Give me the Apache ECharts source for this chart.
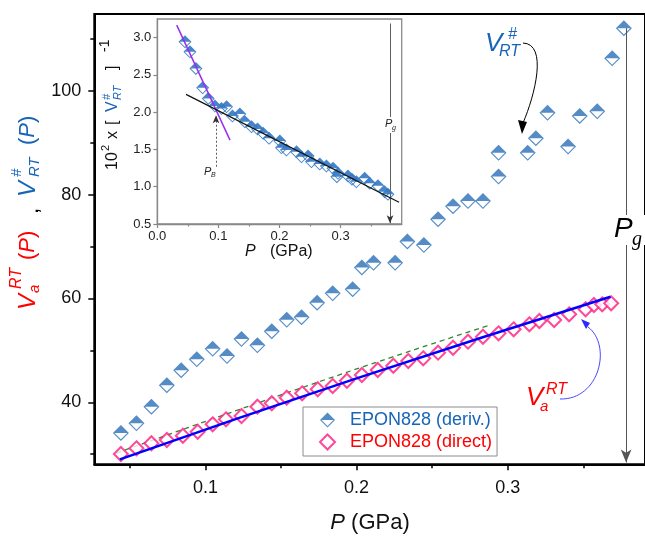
<!DOCTYPE html>
<html><head><meta charset="utf-8">
<script src="https://cdn.jsdelivr.net/npm/echarts@6/dist/echarts.min.js"></script>
<style>html,body{margin:0;padding:0;background:#fff}#c{width:645px;height:536px}</style>
</head><body><div id="c"></div>
<script>
// ---------------- data ----------------
const derivP = [0.0441,0.0544,0.0643,0.0745,0.0840,0.0943,0.1048,0.1143,0.1239,0.1344,0.1439,0.1538,0.1636,0.1739,0.1842,0.1974,0.2035,0.2112,0.2255,0.2336,0.2445,0.2539,0.2638,0.2737,0.2836,0.2939,0.2939,0.3132,0.3186,0.3263,0.3399,0.3476,0.3592,0.3691,0.3768];
const derivV = [34.1,35.95,39.15,43.3,46.2,48.3,50.3,48.9,52.2,51.0,53.7,55.9,56.4,59.2,61.0,61.8,66.0,66.9,66.9,71.0,70.3,75.3,77.8,78.8,78.8,83.5,88.1,88.1,90.9,95.8,89.3,95.2,96.1,106.3,112.1];
const directP = [0.0441,0.0544,0.0643,0.0745,0.0851,0.0949,0.1048,0.1136,0.1239,0.1344,0.1439,0.1538,0.1640,0.1743,0.1842,0.1936,0.2035,0.2140,0.2243,0.2342,0.2441,0.2539,0.2638,0.2737,0.2836,0.2939,0.3039,0.3143,0.3209,0.3307,0.3406,0.3515,0.3570,0.3625,0.3684];
const directV = [30.03,31.13,32.10,32.73,33.56,34.33,35.76,36.72,37.36,39.15,39.81,40.89,41.73,42.51,43.14,44.16,45.26,46.23,47.05,47.96,48.48,49.56,50.52,51.68,52.64,53.30,54.07,55.03,55.67,55.86,56.96,57.93,58.75,58.89,59.08];
const fitP = [0.0434,0.2,0.368];
const fitV = [29.0,44.6,60.35];
const dashP = [0.0412,0.1816,0.2884];
const dashV = [30.2,44.6,54.9];
const pgMainP = [0.3783,0.3783];
const pgMainV = [112.1,28.4];

const insetP = [0.0453,0.0534,0.0632,0.0742,0.0834,0.0943,0.1050,0.1134,0.1230,0.1351,0.1433,0.1542,0.1640,0.1732,0.1830,0.2005,0.2032,0.2114,0.2278,0.2360,0.2468,0.2523,0.2659,0.2768,0.2876,0.2939,0.2958,0.3121,0.3186,0.3258,0.3394,0.3475,0.3611,0.3720,0.3775];
const insetV = [2.944,2.81,2.587,2.327,2.185,2.082,2.05,2.072,1.948,1.974,1.871,1.804,1.773,1.716,1.649,1.613,1.523,1.492,1.469,1.402,1.411,1.335,1.304,1.277,1.247,1.135,1.18,1.143,1.10,1.067,1.113,1.046,1.014,0.933,0.898];
const purpleP = [0.0318,0.119];
const purpleV = [3.168,1.626];
const blackP = [0.047,0.3956];
const blackV = [2.239,0.791];
const pgInsetP = [0.3809,0.3809];
const pgInsetV = [3.19,0.51];
const pbInsetP = [0.0961,0.0961];
const pbInsetV = [1.268,1.96];

const mainXTicks = [0.1,0.2,0.3];
const mainXMinor = [0.05,0.15,0.25,0.35];
const mainYTicks = [40,60,80,100];
const mainYMinor = [30,50,70,90,110];
const insetXTicks = [0,0.1,0.2,0.3];
const insetXMinor = [0.05,0.15,0.25,0.35];
const insetYTicks = [0.5,1.0,1.5,2.0,2.5,3.0];

// ---------------- helpers ----------------
const FF = "'Liberation Sans', Arial, sans-serif";
const HALF = 'path://M0,-10L10,0L0,10L-10,0ZM0,-8L-8,0L0,8L8,0ZM0,-10L10,0L-10,0Z';
const pairs = (xs, ys) => xs.map((x, i) => [x, ys[i]]);
const MX0 = 0.02651, MX1 = 0.39079, MY0 = 28.05, MY1 = 114.84;

function majorAxis(grid, pos, min, max, ticks, o) {
  return {
    type: 'value', gridIndex: grid, position: pos, min: min, max: max,
    axisLine: {show: true, onZero: false, lineStyle: {color: o.lc, width: o.lw}},
    axisTick: {show: true, length: o.tl, customValues: ticks, lineStyle: {color: o.lc, width: o.tw}},
    axisLabel: {show: true, customValues: ticks, fontSize: o.fs, fontFamily: FF, color: o.tc,
      margin: o.m, formatter: o.fmt},
    splitLine: {show: false}
  };
}
function minorAxis(grid, pos, min, max, ticks, o) {
  return {
    type: 'value', gridIndex: grid, position: pos, min: min, max: max,
    axisLine: {show: false},
    axisTick: {show: true, length: o.tl, customValues: ticks, lineStyle: {color: o.lc, width: o.tw}},
    axisLabel: {show: false},
    splitLine: {show: false}
  };
}
function txt(t, x, y, size, color, italic, extra) {
  return {type: 'text', x: x, y: y, z: 100,
    style: Object.assign({text: t, fill: color, fontSize: size, fontFamily: FF,
      fontStyle: italic ? 'italic' : 'normal', align: 'left', verticalAlign: 'middle'}, extra || {})};
}
function paren(x, size, color) {
  return {type: 'text', x: x, y: 0, z: 100,
    style: {text: '({i|P})', fill: color, fontSize: size, fontFamily: FF, align: 'left', verticalAlign: 'middle',
      rich: {i: {fontStyle: 'italic', fontSize: size, fontFamily: FF, fill: color}}}};
}

const chart = echarts.init(document.getElementById('c'), null, {renderer: 'canvas'});
const mainO = {lc: '#000', lw: 2, tw: 1.5, tl: 6, fs: 18, tc: '#111'};
const insO = {lc: '#888', lw: 1.3, tw: 1.2, tl: 4, fs: 13, tc: '#222'};

const RED = '#ff0000', BLUE = '#1764b8';

chart.setOption({
  animation: false,
  backgroundColor: '#fff',
  grid: [
    {left: 94.3, top: 14, right: -3, bottom: 71.7, show: true, borderColor: '#000', borderWidth: 2, backgroundColor: 'transparent'},
    {left: 157.3, top: 19, width: 244.4, height: 205, show: true, borderColor: '#8a8a8a', borderWidth: 1.3, backgroundColor: '#fff'}
  ],
  xAxis: [
    majorAxis(0, 'bottom', MX0, MX1, mainXTicks, Object.assign({m: 15, fmt: v => v.toFixed(1)}, mainO)),
    minorAxis(0, 'bottom', MX0, MX1, mainXMinor, {lc: '#000', tw: 1.5, tl: 4}),
    majorAxis(1, 'bottom', 0, 0.4, insetXTicks, Object.assign({m: 6, fmt: v => v.toFixed(1)}, insO)),
    minorAxis(1, 'bottom', 0, 0.4, insetXMinor, {lc: '#888', tw: 1.2, tl: 2.5})
  ],
  yAxis: [
    majorAxis(0, 'left', MY0, MY1, mainYTicks, Object.assign({m: 13, fmt: v => String(v)}, mainO)),
    minorAxis(0, 'left', MY0, MY1, mainYMinor, {lc: '#000', tw: 1.5, tl: 4}),
    majorAxis(1, 'left', 0.5, 3.25, insetYTicks, Object.assign({m: 6, fmt: v => v.toFixed(1)}, insO)),
    minorAxis(1, 'left', 0.5, 3.25, [], {lc: '#888', tw: 1.2, tl: 2.5})
  ],
  legend: {
    orient: 'vertical', left: 303, top: 407, selectedMode: false,
    padding: [4, 5, 5, 16], itemGap: 4, itemWidth: 15, itemHeight: 15,
    borderColor: '#8c8c8c', borderWidth: 1, backgroundColor: '#fff',
    textStyle: {fontSize: 18, fontFamily: FF, padding: [0, 0, 0, 10]},
    data: [
      {name: 'EPON828 (deriv.)', textStyle: {color: BLUE}},
      {name: 'EPON828 (direct)', textStyle: {color: RED}}
    ]
  },
  series: [
    {name: 'green', type: 'line', xAxisIndex: 0, yAxisIndex: 0, data: pairs(dashP, dashV), smooth: true,
      showSymbol: false, symbol: 'none', lineStyle: {color: '#2b8a2b', width: 1.3, type: [5, 4]}, z: 2},
    {name: 'EPON828 (deriv.)', type: 'scatter', xAxisIndex: 0, yAxisIndex: 0, data: pairs(derivP, derivV),
      symbol: HALF, symbolSize: 16, itemStyle: {color: '#2b6fb7'}, z: 3},
    {name: 'EPON828 (direct)', type: 'scatter', xAxisIndex: 0, yAxisIndex: 0, data: pairs(directP, directV),
      symbol: 'diamond', symbolSize: 14, itemStyle: {color: '#fff', borderColor: '#ff1a80', borderWidth: 2}, z: 3},
    {name: 'fit', type: 'line', xAxisIndex: 0, yAxisIndex: 0, data: pairs(fitP, fitV), smooth: true,
      showSymbol: false, symbol: 'none', lineStyle: {color: '#0000ff', width: 2.5}, z: 4,
      markLine: {silent: true, symbol: ['none', 'arrow'], symbolSize: [8, 13], animation: false,
        label: {show: false}, lineStyle: {color: '#555', width: 1, type: 'solid'},
        data: [[{coord: [pgMainP[0], pgMainV[0]]}, {coord: [pgMainP[1], pgMainV[1]]}]]}},
    {name: 'insetPts', type: 'scatter', xAxisIndex: 2, yAxisIndex: 2, data: pairs(insetP, insetV),
      symbol: HALF, symbolSize: 13, itemStyle: {color: '#3478c2', opacity: 0.9}, z: 5},
    {name: 'purple', type: 'line', xAxisIndex: 2, yAxisIndex: 2, data: pairs(purpleP, purpleV),
      showSymbol: false, symbol: 'none', lineStyle: {color: '#9a2cf0', width: 1.5}, z: 6},
    {name: 'black', type: 'line', xAxisIndex: 2, yAxisIndex: 2, data: pairs(blackP, blackV),
      showSymbol: false, symbol: 'none', lineStyle: {color: '#111', width: 1.2}, z: 6,
      markLine: {silent: true, symbol: ['none', 'arrow'], symbolSize: [5, 8], animation: false,
        label: {show: false},
        data: [
          [{coord: [pgInsetP[0], pgInsetV[0]], lineStyle: {color: '#333', width: 0.8, type: 'solid'}}, {coord: [pgInsetP[1], pgInsetV[1]]}],
          [{coord: [pbInsetP[0], pbInsetV[0]], lineStyle: {color: '#333', width: 0.8, type: [2, 2]}}, {coord: [pbInsetP[1], pbInsetV[1]]}]
        ]}}
  ],
  graphic: [
    // main y-axis title (rotated)
    {type: 'group', x: 28, y: 310, rotation: Math.PI / 2, z: 100, children: [
      txt('V', 0, 0, 24, RED, true),
      txt('RT', 21, -11, 16, RED, true),
      txt('a', 17, 7, 15, RED, true),
      paren(50, 22, RED),
      txt(',', 96, 4, 22, '#000', false),
      txt('V', 113, 0, 24, BLUE, true),
      txt('#', 133, -11, 15, BLUE, true),
      txt('RT', 133, 7, 15, BLUE, true),
      paren(165, 22, BLUE)
    ]},
    // main x-axis title
    {type: 'text', x: 370, y: 523, z: 100, style: {text: '{i|P} (GPa)', fontSize: 22, fontFamily: FF, fill: '#111',
      align: 'center', verticalAlign: 'middle', rich: {i: {fontStyle: 'italic', fontSize: 22, fontFamily: FF, fill: '#111'}}}},
    // inset y title (rotated)
    {type: 'group', x: 113, y: 170, rotation: Math.PI / 2, z: 100, children: [
      txt('10', 0, 0, 16, '#111', false),
      txt('2', 19, -7, 11, '#111', false),
      txt('x', 31, 0, 16, '#111', false),
      txt('[', 45, 0, 16, '#111', false),
      txt('V', 58, 0, 16, BLUE, false),
      txt('#', 70, -6, 11, BLUE, true),
      txt('RT', 70, 5, 11, BLUE, true),
      txt(']', 100, 0, 16, '#111', false),
      txt('-1', 118, -8, 14, '#111', false)
    ]},
    // inset x title
    txt('P', 245, 252, 16, '#111', true),
    txt('(GPa)', 270, 252, 16, '#111', false),
    // P_B label
    txt('P', 204, 172, 11, '#222', true),
    txt('B', 211, 175, 7, '#222', true),
    // inset Pg label
    {type: 'rect', shape: {x: 384, y: 117, width: 13, height: 16}, style: {fill: '#fff'}, z: 90},
    txt('P', 385, 124, 11, '#222', true),
    txt('g', 392, 128, 8, '#222', true, {fontFamily: "'Liberation Serif', serif"}),
    // main Pg label
    {type: 'rect', shape: {x: 612, y: 215, width: 33, height: 30}, style: {fill: '#fff'}, z: 90},
    txt('P', 614, 229, 28, '#000', true),
    txt('g', 632, 240, 20, '#000', true, {fontFamily: "'Liberation Serif', serif"}),
    // V#RT annotation
    txt('V', 485, 44, 26, BLUE, true),
    txt('#', 508, 35, 16, BLUE, true),
    txt('RT', 499, 52, 16, BLUE, true),
    {type: 'bezierCurve', z: 100, shape: {x1: 523, y1: 43, cpx1: 548, cpy1: 44, cpx2: 535, cpy2: 95, x2: 523, y2: 123},
      style: {stroke: '#000', lineWidth: 1, fill: null}},
    {type: 'polygon', z: 100, shape: {points: [[518, 120], [527, 122], [522, 134]]}, style: {fill: '#000'}},
    // Va^RT annotation
    txt('V', 526, 398, 26, RED, true),
    txt('RT', 546, 390, 16, RED, true),
    txt('a', 540, 407, 15, RED, true),
    {type: 'bezierCurve', z: 100, shape: {x1: 560, y1: 399, cpx1: 600, cpy1: 400, cpx2: 612, cpy2: 345, x2: 588, y2: 327},
      style: {stroke: '#4a4aff', lineWidth: 1, fill: null}},
    {type: 'polygon', z: 100, shape: {points: [[581, 319], [590, 323], [586, 329]]}, style: {fill: '#2a2aff'}}
  ]
});
</script></body></html>
